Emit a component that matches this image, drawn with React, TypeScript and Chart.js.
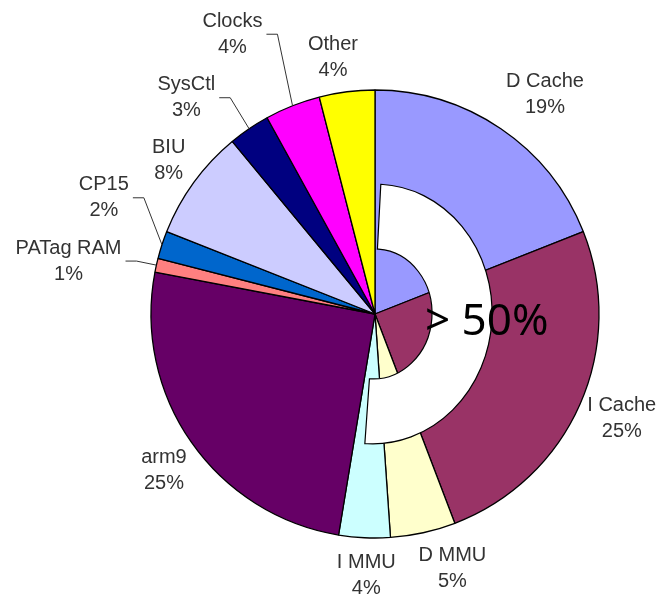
import React, { useEffect, useRef } from "react";
import { Chart, registerables } from "chart.js";

Chart.register(...registerables);

// ---- data ----
const categories = [
  "D Cache",
  "I Cache",
  "D MMU",
  "I MMU",
  "arm9",
  "PATag RAM",
  "CP15",
  "BIU",
  "SysCtl",
  "Clocks",
  "Other",
];
const shares = [19, 25.2, 4.7, 3.7, 25.4, 1, 2, 8, 3, 4, 4];
const sliceColors = [
  "#9999FF",
  "#993366",
  "#FFFFCC",
  "#CCFFFF",
  "#660066",
  "#FF8080",
  "#0066CC",
  "#CCCCFF",
  "#000080",
  "#FF00FF",
  "#FFFF00",
];
const calloutText = "> 50%";

// label placement tweaks (degrees shift along the circle, pixels outward)
const labelLayout: Record<string, { dA: number; dR: number; leader?: boolean }> = {
  "D Cache": { dA: 3.5, dR: 54 },
  "I Cache": { dA: -0.8, dR: 44 },
  "D MMU": { dA: -4.5, dR: 42 },
  "I MMU": { dA: -0.8, dR: 38 },
  arm9: { dA: -1.7, dR: 39 },
  "PATag RAM": { dA: -2.8, dR: 87, leader: true },
  CP15: { dA: 5.2, dR: 71, leader: true },
  BIU: { dA: 0.6, dR: 33 },
  SysCtl: { dA: -6.9, dR: 63, leader: true },
  Clocks: { dA: -5.4, dR: 90, leader: true },
  Other: { dA: -2.1, dR: 36 },
};

const overlayPlugin = {
  id: "overlayPlugin",
  afterDatasetsDraw(chart: any) {
    const ctx: CanvasRenderingContext2D = chart.ctx;
    const arcs = chart.getDatasetMeta(0).data as any[];
    if (!arcs.length) return;
    const cx = arcs[0].x;
    const cy = arcs[0].y;
    const R = arcs[0].outerRadius;

    // white half-ring callout
    ctx.save();
    const rot = (3 * Math.PI) / 180;
    const rcx = cx - 1;
    ctx.beginPath();
    ctx.ellipse(rcx, cy, R * 0.527, R * 0.58, rot, -Math.PI / 2, Math.PI / 2 + 0.02, false);
    ctx.ellipse(rcx, cy, R * 0.259, R * 0.29, rot, Math.PI / 2 + 0.02, -Math.PI / 2, true);
    ctx.closePath();
    ctx.fillStyle = "#FFFFFF";
    ctx.fill();
    ctx.strokeStyle = "#000000";
    ctx.lineWidth = 1.2;
    ctx.stroke();
    ctx.restore();

    // callout text
    ctx.save();
    ctx.font = "44px 'Noto Sans', 'Open Sans', sans-serif";
    ctx.fillStyle = "#000000";
    ctx.textAlign = "left";
    ctx.textBaseline = "alphabetic";
    ctx.fillText(calloutText, cx + 50, cy + 21);
    ctx.restore();

    // slice labels
    ctx.save();
    ctx.font = "20px 'Liberation Sans', Arial, sans-serif";
    ctx.fillStyle = "#333333";
    ctx.strokeStyle = "#333333";
    ctx.lineWidth = 1;
    ctx.textAlign = "center";
    ctx.textBaseline = "middle";
    arcs.forEach((arc: any, i: number) => {
      const name = categories[i];
      const lay = labelLayout[name] || { dA: 0, dR: 38 };
      const mid = (arc.startAngle + arc.endAngle) / 2;
      const a = mid + (lay.dA * Math.PI) / 180;
      const r = R + lay.dR;
      const lx = cx + r * Math.cos(a);
      const ly = cy + r * Math.sin(a);
      const line1 = name;
      const line2 = `${Math.round(shares[i])}%`;
      ctx.fillText(line1, lx, ly - 13);
      ctx.fillText(line2, lx, ly + 13);
      if (lay.leader) {
        const w = Math.max(ctx.measureText(line1).width, ctx.measureText(line2).width);
        const right = lx + w / 2;
        const sx = cx + R * Math.cos(mid);
        const sy = cy + R * Math.sin(mid);
        ctx.beginPath();
        ctx.moveTo(sx, sy);
        ctx.lineTo(right + 15, ly);
        ctx.lineTo(right + 4, ly);
        ctx.stroke();
      }
    });
    ctx.restore();
  },
};

export default function App() {
  const canvasRef = useRef<HTMLCanvasElement | null>(null);

  useEffect(() => {
    document.body.style.margin = "0";
    const canvas = canvasRef.current;
    if (!canvas) return;
    const chart = new Chart(canvas, {
      type: "pie",
      data: {
        labels: categories,
        datasets: [
          {
            data: shares,
            backgroundColor: sliceColors,
            borderColor: "#000000",
            borderWidth: 1.3,
          },
        ],
      },
      options: {
        responsive: false,
        animation: false,
        devicePixelRatio: 1,
        radius: 224,
        layout: { padding: { left: 151, right: 58, top: 90, bottom: 61 } },
        plugins: {
          legend: { display: false },
          tooltip: { enabled: false },
          title: { display: false },
        },
      } as any,
      plugins: [overlayPlugin],
    });
    return () => chart.destroy();
  }, []);

  return (
    <div style={{ position: "fixed", left: 0, top: 0, width: 657, height: 599, background: "#fff" }}>
      <canvas ref={canvasRef} width={657} height={599} style={{ width: 657, height: 599 }} />
    </div>
  );
}
